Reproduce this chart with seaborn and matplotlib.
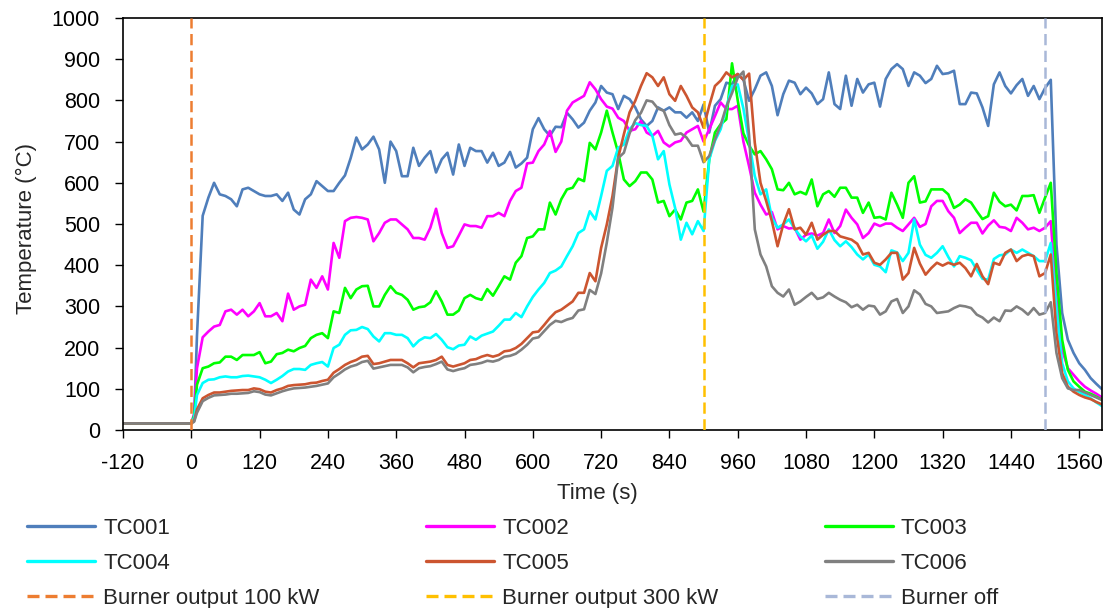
import matplotlib
matplotlib.use("Agg")
import matplotlib.pyplot as plt
import pandas as pd
import seaborn as sns
from matplotlib.lines import Line2D

# ---------------- data ----------------
TIME_S = [-120, 0, 5] + list(range(10, 1601, 10))

TC001 = [16, 16, 30,
         230, 520, 564, 600, 572, 568, 560, 543, 584, 588,
         580, 572, 568, 568, 572, 556, 576, 535, 523, 560,
         572, 604, 592, 580, 580, 600, 618, 660, 710, 681,
         693, 712, 681, 600, 700, 677, 616, 616, 685, 641,
         661, 677, 625, 657, 673, 620, 693, 641, 685, 677,
         677, 649, 673, 641, 649, 675, 637, 647, 661, 730,
         757, 730, 714, 736, 735, 770, 754, 734, 746, 775,
         795, 835, 819, 815, 779, 811, 803, 783, 754, 738,
         750, 783, 775, 783, 771, 771, 758, 771, 750, 790,
         722, 787, 803, 843, 839, 864, 850, 799, 827, 860,
         868, 835, 764, 815, 848, 843, 815, 831, 817, 791,
         803, 868, 791, 779, 860, 787, 852, 819, 839, 843,
         785, 852, 876, 888, 876, 835, 868, 860, 842, 852,
         884, 864, 866, 872, 791, 791, 819, 817, 783, 738,
         839, 868, 835, 817, 837, 852, 811, 835, 803, 830,
         850, 450, 284, 219, 187, 162, 146, 126, 112, 99]

TC002 = [16, 16, 40,
         150, 225, 239, 251, 255, 288, 292, 280, 292, 276,
         288, 308, 276, 276, 284, 264, 331, 292, 300, 304,
         365, 345, 373, 341, 454, 418, 507, 515, 517, 515,
         511, 458, 478, 503, 511, 511, 499, 487, 466, 466,
         462, 491, 537, 478, 442, 446, 472, 499, 495, 495,
         491, 519, 519, 527, 519, 556, 580, 588, 647, 649,
         677, 693, 726, 675, 700, 775, 795, 803, 811, 844,
         827, 803, 785, 780, 758, 750, 726, 730, 750, 722,
         714, 726, 698, 688, 698, 702, 722, 730, 738, 700,
         730, 762, 795, 779, 779, 787, 700, 640, 576, 547,
         523, 529, 487, 495, 489, 491, 462, 474, 477, 472,
         478, 511, 478, 495, 535, 515, 499, 466, 478, 501,
         495, 501, 501, 491, 483, 499, 515, 493, 500, 543,
         556, 556, 531, 515, 478, 491, 503, 503, 477, 496,
         509, 493, 491, 483, 515, 503, 487, 491, 483, 491,
         507, 316, 195, 150, 134, 118, 105, 96, 88, 79]

TC003 = [16, 16, 35,
         110, 150, 154, 162, 164, 178, 178, 170, 182, 182,
         182, 189, 162, 166, 184, 187, 195, 191, 199, 204,
         223, 231, 235, 223, 288, 284, 345, 320, 341, 349,
         350, 300, 300, 328, 349, 333, 328, 316, 292, 298,
         300, 310, 337, 312, 280, 280, 290, 320, 328, 320,
         316, 342, 326, 349, 373, 365, 406, 422, 466, 470,
         487, 487, 552, 523, 560, 584, 588, 610, 604, 697,
         681, 722, 775, 722, 673, 608, 592, 604, 625, 625,
         608, 552, 556, 519, 535, 511, 552, 556, 584, 530,
         657, 722, 742, 754, 890, 800, 720, 690, 669, 677,
         657, 633, 584, 582, 600, 572, 578, 572, 608, 543,
         572, 580, 566, 588, 588, 564, 564, 527, 552, 515,
         517, 511, 576, 547, 515, 600, 616, 552, 555, 584,
         584, 584, 572, 539, 547, 560, 552, 531, 512, 519,
         576, 554, 543, 547, 533, 568, 568, 570, 527, 564,
         600, 381, 219, 146, 118, 105, 93, 88, 81, 73]

TC004 = [16, 16, 30,
         85, 114, 122, 123, 128, 130, 128, 128, 131, 132,
         130, 128, 122, 114, 122, 131, 142, 148, 148, 146,
         158, 162, 165, 154, 199, 207, 231, 242, 243, 250,
         245, 227, 215, 235, 235, 231, 231, 223, 203, 217,
         225, 223, 233, 219, 201, 196, 205, 207, 227, 219,
         229, 234, 239, 253, 268, 268, 284, 274, 300, 323,
         341, 357, 381, 387, 397, 422, 446, 478, 487, 531,
         511, 568, 629, 641, 685, 693, 730, 745, 740, 738,
         714, 657, 677, 596, 539, 462, 503, 475, 507, 483,
         657, 702, 730, 783, 835, 839, 780, 700, 616, 572,
         584, 515, 491, 499, 511, 489, 470, 458, 472, 440,
         457, 487, 461, 446, 458, 444, 426, 414, 426, 401,
         397, 383, 436, 431, 410, 430, 511, 450, 425, 418,
         430, 446, 420, 397, 422, 418, 412, 389, 367, 365,
         415, 424, 426, 438, 430, 438, 430, 422, 410, 410,
         454, 292, 162, 118, 101, 92, 85, 77, 67, 58]

TC005 = [16, 16, 22,
         50, 77, 85, 91, 91, 93, 95, 96, 97, 97,
         101, 99, 93, 91, 97, 101, 107, 109, 110, 111,
         114, 115, 119, 122, 139, 148, 158, 165, 170, 178,
         180, 160, 162, 166, 170, 170, 170, 162, 152, 162,
         164, 166, 170, 178, 158, 154, 158, 162, 170, 172,
         178, 182, 178, 182, 191, 193, 199, 209, 223, 237,
         239, 255, 272, 286, 292, 302, 312, 333, 333, 381,
         361, 442, 499, 568, 661, 718, 771, 799, 835, 866,
         856, 835, 856, 815, 799, 835, 811, 783, 771, 734,
         787, 835, 848, 868, 856, 864, 850, 865, 697, 600,
         556, 507, 446, 499, 536, 487, 491, 474, 503, 462,
         474, 483, 483, 470, 466, 462, 452, 426, 430, 406,
         401, 414, 430, 430, 365, 381, 442, 404, 377, 393,
         406, 399, 406, 401, 406, 393, 373, 403, 373, 354,
         406, 401, 430, 438, 410, 422, 426, 422, 373, 381,
         426, 235, 138, 105, 93, 85, 79, 75, 68, 62]

TC006 = [16, 16, 20,
         42, 70, 78, 84, 85, 86, 88, 88, 89, 90,
         94, 92, 86, 84, 89, 94, 98, 101, 102, 103,
         105, 107, 110, 113, 128, 137, 147, 154, 158, 165,
         168, 149, 152, 155, 158, 158, 158, 152, 140, 150,
         153, 155, 160, 166, 147, 143, 147, 150, 158, 160,
         163, 168, 166, 170, 178, 180, 185, 195, 207, 222,
         225, 240, 255, 265, 262, 268, 272, 290, 293, 340,
         330, 380, 455, 540, 660, 673, 720, 752, 770, 800,
         797, 780, 775, 740, 717, 720, 710, 690, 690, 650,
         665, 705, 740, 785, 818, 855, 870, 714, 487, 426,
         397, 349, 333, 324, 341, 304, 312, 323, 333, 318,
         322, 333, 324, 316, 310, 298, 304, 292, 302, 300,
         280, 288, 312, 318, 284, 300, 339, 329, 306, 300,
         284, 286, 288, 296, 302, 300, 296, 280, 273, 261,
         273, 264, 290, 289, 300, 292, 280, 296, 280, 284,
         310, 187, 126, 101, 97, 97, 91, 85, 79, 73]

SENSORS = ["TC001", "TC002", "TC003", "TC004", "TC005", "TC006"]
SENSOR_VALUES = [TC001, TC002, TC003, TC004, TC005, TC006]
SENSOR_COLORS = ["#4F7EBB", "#FF00FF", "#00FF00", "#00FFFF", "#CC5530", "#808080"]

BURNER_LABELS = ["Burner output 100 kW", "Burner output 300 kW", "Burner off"]
BURNER_TIMES = [0, 900, 1500]
BURNER_COLORS = ["#ED7D31", "#FFC000", "#A9B8D8"]

X_TICKS = list(range(-120, 1561, 120))
Y_TICKS = list(range(0, 1001, 100))

for name, vals in zip(SENSORS, SENSOR_VALUES):
    assert len(vals) == len(TIME_S), (name, len(vals), len(TIME_S))

# ---------------- figure ----------------
sns.set_style("ticks")
plt.rcParams["font.family"] = ["Liberation Sans", "DejaVu Sans"]
plt.rcParams["axes.unicode_minus"] = False

wide = pd.DataFrame({"Time (s)": TIME_S, **dict(zip(SENSORS, SENSOR_VALUES))})
long = wide.melt(id_vars="Time (s)", var_name="Sensor", value_name="Temperature (°C)")

W, H = 1110, 608
fig = plt.figure(figsize=(W / 100, H / 100), dpi=100)
L, R, T, B = 123, 1102, 18, 430
ax = fig.add_axes([L / W, 1 - B / H, (R - L) / W, (B - T) / H])

LW = 1.9
sns.lineplot(data=long, x="Time (s)", y="Temperature (°C)", hue="Sensor",
             hue_order=SENSORS, palette=dict(zip(SENSORS, SENSOR_COLORS)),
             estimator=None, sort=False, linewidth=LW, legend=False, ax=ax)

DASH = (4.5, 2.2)
for t, c in zip(BURNER_TIMES, BURNER_COLORS):
    ax.axvline(t, color=c, lw=1.8, dashes=DASH, zorder=5)

ax.set_xlim(-120, 1600)
ax.set_ylim(0, 1000)
ax.set_xticks(X_TICKS)
ax.set_yticks(Y_TICKS)
ax.tick_params(axis="both", direction="out", length=5.5, width=1.0,
               labelsize=15.5, pad=11, colors="black")
for sp in ax.spines.values():
    sp.set_visible(True)
    sp.set_color("black")
    sp.set_linewidth(1.2)

ax.set_xlabel("Time (s)", fontsize=16)
ax.set_ylabel("Temperature (°C)", fontsize=16)
ax.xaxis.set_label_coords((597 - L) / (R - L), (B - 483) / (B - T))
ax.yaxis.set_label_coords((37 - L) / (R - L), 0.49)

# legend (three columns, filled column by column)
handles = {}
for s, c in zip(SENSORS, SENSOR_COLORS):
    handles[s] = Line2D([], [], color=c, lw=2.4)
for lab, c in zip(BURNER_LABELS, BURNER_COLORS):
    handles[lab] = Line2D([], [], color=c, lw=2.4, dashes=(3.6, 1.8))
order = ["TC001", "TC004", BURNER_LABELS[0],
         "TC002", "TC005", BURNER_LABELS[1],
         "TC003", "TC006", BURNER_LABELS[2]]
fig.legend([handles[k] for k in order], order, ncol=3, loc="upper left",
           bbox_to_anchor=(27 / W, 1 - 518 / H), frameon=False, fontsize=16,
           handlelength=3.06, handletextpad=0.36, columnspacing=4.8,
           labelspacing=0.62, borderpad=0, borderaxespad=0)

fig.savefig("out.png", dpi=100, facecolor="white")
